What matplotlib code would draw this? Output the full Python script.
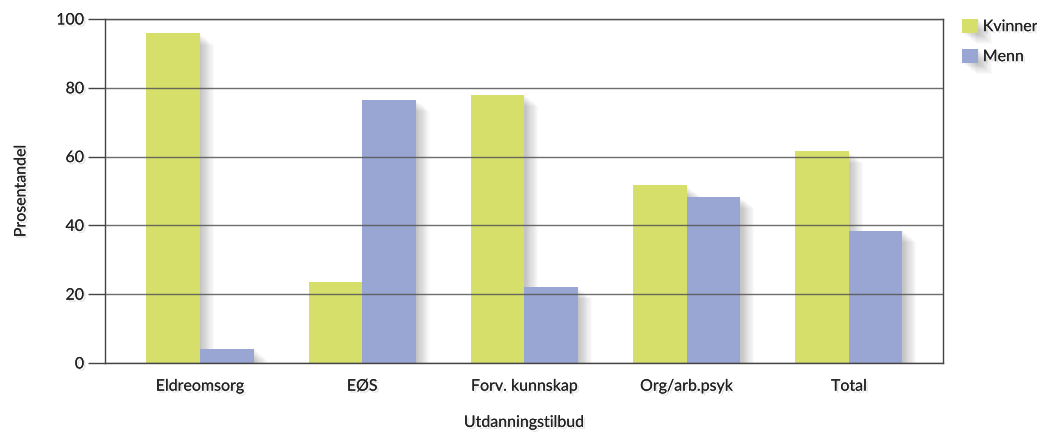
import numpy as np
import matplotlib.pyplot as plt
import matplotlib.patheffects as pe

categories = ['Eldreomsorg', 'EØS', 'Forv. kunnskap', 'Org/arb.psyk', 'Total']
kvinner = [95.8, 23.5, 78.0, 51.7, 61.5]
menn = [4.2, 76.5, 22.0, 48.3, 38.5]

green = '#d5df6a'
blue = '#99a5d3'

plt.rcParams['font.family'] = ['Lato', 'DejaVu Sans']


def soft_shadow(dx, dy, steps=12, alpha=0.02):
    # stacked offset shadows to fake a blurred drop shadow
    effects = []
    for i in range(1, steps + 1):
        effects.append(pe.SimplePatchShadow(offset=(dx * i / steps, dy * i / steps),
                                            shadow_rgbFace='black', alpha=alpha))
    effects.append(pe.Normal())
    return effects


def text_shadow():
    return [pe.withSimplePatchShadow(offset=(1.5, -1.5), shadow_rgbFace='black', alpha=0.10),
            pe.Normal()]


fig = plt.figure(figsize=(10.37, 4.35), dpi=100)
ax = fig.add_axes([0.1013, 0.1632, 0.9094 - 0.1013, 0.954 - 0.1632])

x = np.arange(len(categories))
w = 0.33
b1 = ax.bar(x - w / 2, kvinner, w, color=green, zorder=1)
b2 = ax.bar(x + w / 2, menn, w, color=blue, zorder=1)
for bar in list(b1) + list(b2):
    bar.set_path_effects(soft_shadow(10, -8))

ax.set_ylim(0, 100)
ax.set_xlim(-0.585, 4.58)
ax.set_yticks([0, 20, 40, 60, 80, 100])
ax.set_xticks(x)
ax.set_xticklabels(categories)

ax.yaxis.grid(True, color='#555555', linewidth=1.0, alpha=0.85, zorder=3)
ax.set_axisbelow(False)

for s in ax.spines.values():
    s.set_color('#444444')
    s.set_linewidth(1.0)

ax.tick_params(axis='y', length=12, width=1.0, color='#444444', labelsize=11.5, pad=3)
ax.tick_params(axis='x', length=0, labelsize=11.5, pad=12)
for lbl in ax.get_xticklabels() + ax.get_yticklabels():
    lbl.set_color('#222222')
    lbl.set_path_effects(text_shadow())

ax.set_ylabel('Prosentandel', fontsize=11.5, color='#222222', labelpad=20,
              path_effects=text_shadow())
ax.set_xlabel('Utdanningstilbud', fontsize=11.5, color='#222222', labelpad=16,
              path_effects=text_shadow())

leg = ax.legend([b1, b2], ['Kvinner', 'Menn'], loc='upper left',
                bbox_to_anchor=(1.015, 1.02), frameon=False, fontsize=11.5,
                handlelength=1.0, handleheight=1.0, handletextpad=0.3,
                labelspacing=0.9, borderaxespad=0)
for t in leg.get_texts():
    t.set_color('#222222')
    t.set_path_effects(text_shadow())

fig.savefig('out.png', dpi=100)
